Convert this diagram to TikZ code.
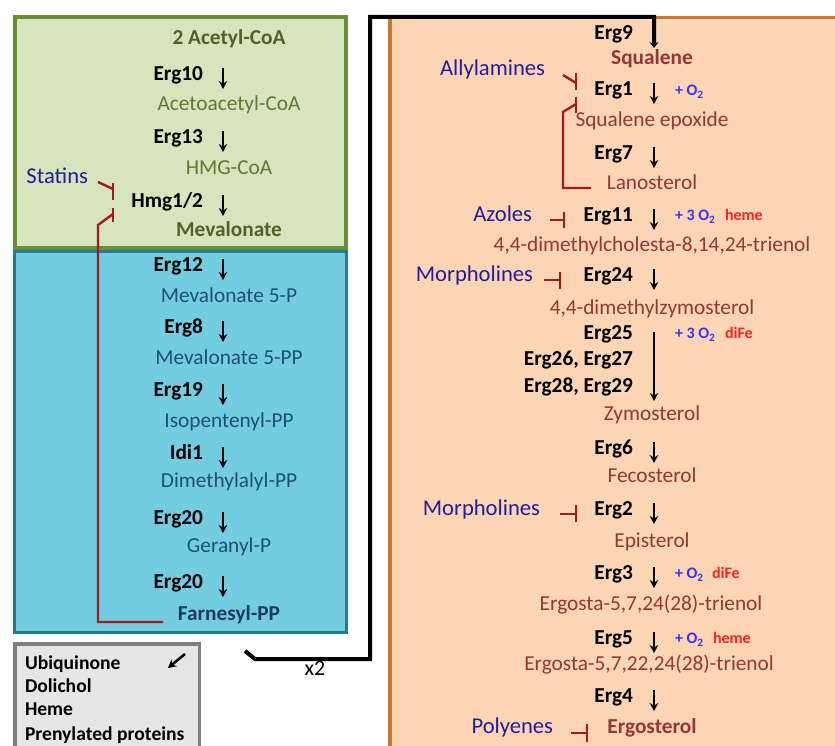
\documentclass[tikz,border=0pt]{standalone}
\usepackage{fontspec}
\setmainfont{Carlito}
\usetikzlibrary{arrows.meta}
\definecolor{gfill}{HTML}{D7E4BD}
\definecolor{gdraw}{HTML}{6E8E36}
\definecolor{bfill}{HTML}{72CDE0}
\definecolor{bdraw}{HTML}{1E7F92}
\definecolor{ofill}{HTML}{FCD5B5}
\definecolor{odraw}{HTML}{CF7530}
\definecolor{kfill}{HTML}{E6E6E6}
\definecolor{kdraw}{HTML}{7F7F7F}
\definecolor{gtext}{HTML}{4F6228}
\definecolor{gtextl}{HTML}{5C7A30}
\definecolor{btext}{HTML}{1F4E79}
\definecolor{btextd}{HTML}{1F3864}
\definecolor{rtext}{HTML}{953735}
\definecolor{itext}{HTML}{1F1F9C}
\definecolor{inhred}{HTML}{A3191C}
\definecolor{oxblue}{HTML}{3333FF}
\definecolor{hemered}{HTML}{FF2222}
\begin{document}
\begin{tikzpicture}[x=1pt,y=-1pt,
  every node/.style={inner sep=0pt, outer sep=0pt, yshift=-5pt, font=\fontsize{21.3}{25}\selectfont, text height=0.72em, text depth=0.2em},
  enz/.style={anchor=east, font=\fontsize{21.3}{25}\selectfont\bfseries, text=black},
  gprod/.style={text=gtextl},
  gprodb/.style={text=gtext, font=\fontsize{21.3}{25}\selectfont\bfseries},
  bprod/.style={text=btext},
  bprodb/.style={text=btextd, font=\fontsize{21.3}{25}\selectfont\bfseries},
  rprod/.style={text=rtext},
  rprodb/.style={text=rtext, font=\fontsize{21.3}{25}\selectfont\bfseries},
  inhib/.style={anchor=east, text=itext, font=\fontsize{22.6}{26}\selectfont},
  ox/.style={anchor=west, text=oxblue, font=\fontsize{16}{19}\selectfont\bfseries, yshift=1pt},
  cof/.style={anchor=west, text=hemered, font=\fontsize{16}{19}\selectfont\bfseries, yshift=1pt},
  side/.style={anchor=west, text=black, font=\fontsize{19.6}{23}\selectfont\bfseries},
  arr/.style={line width=2.5pt, -{Stealth[length=8pt,width=8.5pt]}},
  inh/.style={line width=2.4pt, draw=inhred},
  flow/.style={line width=4pt, -{Stealth[length=6pt,width=9pt]}}
]
\clip (0,0) rectangle (835,746);
\useasboundingbox (0,0) rectangle (835,746);

% boxes
\draw[fill=gfill, draw=gdraw, line width=4pt] (15,17) rectangle (346,248);
\draw[fill=bfill, draw=bdraw, line width=3pt] (14.5,251.5) rectangle (346.5,632.5);
\draw[fill=kfill, draw=kdraw, line width=3.5pt] (14.75,643.75) rectangle (199.25,760);
\draw[fill=ofill, draw=odraw, line width=3.5pt] (389.75,17.75) rectangle (850,760);

% ---------- left column ----------
\node[gprodb] (acCoA) at (229,37) {2 Acetyl-CoA};
\node[enz] (erg10) at (203,73) {Erg10};
\node[gprod] (aacCoA) at (229,103) {Acetoacetyl-CoA};
\node[enz] (erg13) at (203,136) {Erg13};
\node[gprod] (hmgCoA) at (229,167) {HMG-CoA};
\node[enz] (hmg) at (203,200) {Hmg1/2};
\node[gprodb] (mev) at (229,229) {Mevalonate};
\node[enz] (erg12) at (203,264) {Erg12};
\node[bprod] (mev5p) at (229,295) {Mevalonate 5-P};
\node[enz] (erg8) at (203,326) {Erg8};
\node[bprod] (mev5pp) at (229,357) {Mevalonate 5-PP};
\node[enz] (erg19) at (203,389) {Erg19};
\node[bprod] (ipp) at (229,420) {Isopentenyl-PP};
\node[enz] (idi1) at (203,452) {Idi1};
\node[bprod] (dmapp) at (229,480) {Dimethylalyl-PP};
\node[enz] (erg20a) at (203,517) {Erg20};
\node[bprod] (gpp) at (229,545) {Geranyl-P};
\node[enz] (erg20b) at (203,581) {Erg20};
\node[bprodb] (fpp) at (229,613) {Farnesyl-PP};

\foreach \n/\y in {a1/73,a2/136,a3/200,a4/264,a5/326,a6/389,a7/452,a8/517,a9/581}{
  \coordinate (\n s) at (223,\y-10);
  \coordinate (\n e) at (223,\y+11);
  \draw[arr] (\n s) -- (\n e);
}

\node[inhib] (statins) at (88,176) {Statins};
\coordinate (st1) at (98,177);
\coordinate (st2) at (113,184);
\coordinate (stb1) at (113,178);
\coordinate (stb2) at (113,195);
\draw[inh] (st1) -- (st2);
\draw[inh] (stb1) -- (stb2);
\coordinate (fb1) at (113,203);
\coordinate (fb2) at (113,217);
\coordinate (fb3) at (113,209);
\coordinate (fb4) at (98,220);
\coordinate (fb5) at (98,617);
\coordinate (fb6) at (163,617);
\draw[inh] (fb1) -- (fb2);
\draw[inh, line join=miter] (fb3) -- (fb4) -- (fb5) -- (fb6);

% side products
\node[side] (ubi) at (25,662) {Ubiquinone};
\node[side] (dol) at (25,685) {Dolichol};
\node[side] (heme) at (25,708) {Heme};
\node[side] (prp) at (25,733) {Prenylated proteins};
\coordinate (sa1) at (185,649);
\coordinate (sa2) at (168,663);
\draw[arr] (sa1) -- (sa2);

% connector x2
\coordinate (c0) at (245,646);
\coordinate (c1) at (255,654);
\coordinate (c2) at (370,654);
\coordinate (c3) at (370,12);
\coordinate (c4) at (654,12);
\coordinate (c5) at (654,43);
\draw[flow, line join=miter] (c0) -- (c1) -- (c2) -- (c3) -- (c4) -- (c5);
\node[font=\fontsize{22}{26}\selectfont] (x2) at (315,668) {x2};

% ---------- right column ----------
\node[enz] (erg9) at (633,32) {Erg9};
\node[rprodb] (squal) at (652,57) {Squalene};
\node[enz] (erg1) at (633,88) {Erg1};
\node[rprod] (sqep) at (652,119) {Squalene epoxide};
\node[enz] (erg7) at (633,152) {Erg7};
\node[rprod] (lano) at (652,182) {Lanosterol};
\node[enz] (erg11) at (633,214) {Erg11};
\node[rprod] (dmct) at (652,244) {4,4-dimethylcholesta-8,14,24-trienol};
\node[enz] (erg24) at (633,274) {Erg24};
\node[rprod] (dmz) at (652,307) {4,4-dimethylzymosterol};
\node[enz] (erg25) at (633,332) {Erg25};
\node[enz] (erg26) at (633,358) {Erg26, Erg27};
\node[enz] (erg28) at (633,385) {Erg28, Erg29};
\node[rprod] (zym) at (652,413) {Zymosterol};
\node[enz] (erg6) at (633,447) {Erg6};
\node[rprod] (feco) at (652,475) {Fecosterol};
\node[enz] (erg2) at (633,508) {Erg2};
\node[rprod] (epi) at (652,540) {Episterol};
\node[enz] (erg3) at (633,572) {Erg3};
\node[rprod] (e1) at (651,603) {Ergosta-5,7,24(28)-trienol};
\node[enz] (erg5) at (633,637) {Erg5};
\node[rprod] (e2) at (649,663) {Ergosta-5,7,22,24(28)-trienol};
\node[enz] (erg4) at (633,695) {Erg4};
\node[rprodb] (ergo) at (652,726) {Ergosterol};

\foreach \n/\y in {b1/88,b2/152,b3/214,b4/274,b6/447,b7/508,b8/572,b9/637,b10/695}{
  \coordinate (\n s) at (654,\y-10);
  \coordinate (\n e) at (654,\y+11);
  \draw[arr] (\n s) -- (\n e);
}
\coordinate (b5s) at (654,327);
\coordinate (b5e) at (654,396);
\draw[arr] (b5s) -- (b5e);

% cofactors
\node[ox] (o1) at (675,89) {+ O\textsubscript{2}};
\node[ox] (o2) at (675,214) {+ 3 O\textsubscript{2}};
\node[cof] (h2) at (725,214) {heme};
\node[ox] (o3) at (675,332) {+ 3 O\textsubscript{2}};
\node[cof] (f3) at (725,332) {diFe};
\node[ox] (o4) at (675,572) {+ O\textsubscript{2}};
\node[cof] (f4) at (712,572) {diFe};
\node[ox] (o5) at (675,637) {+ O\textsubscript{2}};
\node[cof] (h5) at (713,637) {heme};

% inhibitors
\node[inhib] (ally) at (545,68) {Allylamines};
\coordinate (al1) at (563,70);
\coordinate (al2) at (576,78);
\coordinate (alb1) at (576,68);
\coordinate (alb2) at (576,85);
\draw[inh] (al1) -- (al2);
\draw[inh] (alb1) -- (alb2);
\coordinate (lb1) at (576,92);
\coordinate (lb2) at (576,108);
\coordinate (lb3) at (576,99);
\coordinate (lb4) at (563,107);
\coordinate (lb5) at (563,183);
\coordinate (lb6) at (591,183);
\draw[inh] (lb1) -- (lb2);
\draw[inh, line join=miter] (lb3) -- (lb4) -- (lb5) -- (lb6);

\node[inhib] (azoles) at (532,214) {Azoles};
\coordinate (az1) at (550,215);
\coordinate (az2) at (564,215);
\coordinate (azb1) at (564,207);
\coordinate (azb2) at (564,223);
\draw[inh] (az1) -- (az2);
\draw[inh] (azb1) -- (azb2);

\node[inhib] (morph1) at (533,274) {Morpholines};
\coordinate (m1) at (544,275);
\coordinate (m2) at (560,275);
\coordinate (mb1) at (560,267);
\coordinate (mb2) at (560,284);
\draw[inh] (m1) -- (m2);
\draw[inh] (mb1) -- (mb2);

\node[inhib] (morph2) at (540,508) {Morpholines};
\coordinate (n1) at (560,509);
\coordinate (n2) at (576,509);
\coordinate (nb1) at (576,500);
\coordinate (nb2) at (576,517);
\draw[inh] (n1) -- (n2);
\draw[inh] (nb1) -- (nb2);

\node[inhib] (poly) at (553,726) {Polyenes};
\coordinate (p1) at (571,728);
\coordinate (p2) at (587,728);
\coordinate (pb1) at (587,719);
\coordinate (pb2) at (587,737);
\draw[inh] (p1) -- (p2);
\draw[inh] (pb1) -- (pb2);
\end{tikzpicture}
\end{document}
